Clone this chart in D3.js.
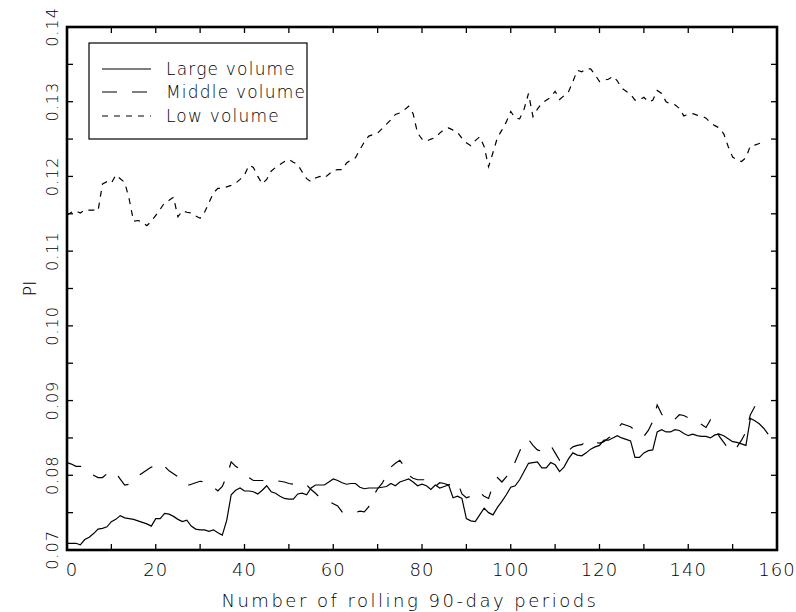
<!DOCTYPE html>
<html><head><meta charset="utf-8">
<script src="https://cdn.jsdelivr.net/npm/d3@7/dist/d3.min.js"></script>
<style>
html,body{margin:0;padding:0;background:#fff;}
svg text{font-family:"DejaVu Sans",sans-serif;font-weight:200;fill:#000;}
</style></head>
<body><svg id="c" width="796" height="612"></svg>
<script>
const largeVolume = [0.0709,0.0709,0.0709,0.0707,0.0714,0.0717,0.0722,0.0728,0.0729,0.0731,
0.0738,0.0741,0.0746,0.0743,0.0742,0.0741,0.0739,0.0737,0.0735,0.0732,
0.0742,0.0742,0.0749,0.0748,0.0745,0.0741,0.0738,0.0740,0.0732,0.0728,
0.0727,0.0727,0.0725,0.0727,0.0723,0.0720,0.0740,0.0774,0.0780,0.0783,
0.0779,0.0779,0.0778,0.0775,0.0780,0.0786,0.0778,0.0776,0.0772,0.0769,
0.0768,0.0768,0.0775,0.0776,0.0774,0.0783,0.0787,0.0787,0.0787,0.0791,
0.0795,0.0793,0.0790,0.0788,0.0789,0.0789,0.0784,0.0782,0.0783,0.0783,
0.0783,0.0784,0.0785,0.0789,0.0786,0.0791,0.0793,0.0795,0.0791,0.0786,
0.0788,0.0786,0.0781,0.0787,0.0783,0.0785,0.0787,0.0770,0.0772,0.0769,
0.0742,0.0739,0.0738,0.0747,0.0756,0.0750,0.0747,0.0757,0.0765,0.0774,
0.0784,0.0786,0.0794,0.0805,0.0816,0.0817,0.0818,0.0810,0.0810,0.0817,
0.0814,0.0805,0.0811,0.0822,0.0830,0.0827,0.0826,0.0830,0.0835,0.0838,
0.0840,0.0847,0.0847,0.0850,0.0853,0.0850,0.0848,0.0846,0.0824,0.0824,
0.0830,0.0833,0.0834,0.0858,0.0861,0.0858,0.0858,0.0861,0.0860,0.0856,
0.0853,0.0855,0.0853,0.0852,0.0852,0.0850,0.0854,0.0855,0.0853,0.0849,
0.0845,0.0844,0.0842,0.0840,0.0876,0.0873,0.0869,0.0863,0.0855];

const middleVolume = [0.0817,0.0815,0.0812,0.0812,0.0811,0.0805,0.0800,0.0797,0.0797,0.0802,
0.0806,0.0803,0.0795,0.0787,0.0788,0.0792,0.0799,0.0803,0.0807,0.0811,
0.0813,0.0816,0.0812,0.0806,0.0802,0.0798,0.0791,0.0786,0.0788,0.0790,
0.0792,0.0791,0.0789,0.0784,0.0779,0.0785,0.0799,0.0818,0.0812,0.0808,
0.0803,0.0797,0.0793,0.0793,0.0793,0.0793,0.0793,0.0793,0.0792,0.0791,
0.0789,0.0788,0.0786,0.0786,0.0787,0.0781,0.0776,0.0770,0.0768,0.0765,
0.0762,0.0759,0.0751,0.0749,0.0749,0.0750,0.0752,0.0751,0.0758,0.0772,
0.0782,0.0789,0.0800,0.0811,0.0816,0.0820,0.0812,0.0800,0.0796,0.0794,
0.0794,0.0794,0.0791,0.0785,0.0790,0.0789,0.0787,0.0790,0.0791,0.0775,
0.0770,0.0772,0.0778,0.0777,0.0772,0.0769,0.0787,0.0797,0.0791,0.0798,
0.0805,0.0818,0.0832,0.0845,0.0848,0.0840,0.0834,0.0832,0.0836,0.0840,
0.0830,0.0820,0.0826,0.0833,0.0838,0.0840,0.0841,0.0845,0.0847,0.0844,
0.0843,0.0845,0.0850,0.0853,0.0862,0.0869,0.0867,0.0865,0.0860,0.0854,
0.0852,0.0860,0.0872,0.0894,0.0882,0.0874,0.0874,0.0875,0.0881,0.0880,
0.0877,0.0875,0.0873,0.0868,0.0864,0.0874,0.0865,0.0852,0.0844,0.0836,
0.0832,0.0838,0.0847,0.0858,0.0881,0.0892,0.0898,0.0901];

const lowVolume = [0.1148,0.1152,0.1154,0.1151,0.1155,0.1155,0.1155,0.1154,0.1190,0.1193,
0.1191,0.1202,0.1197,0.1192,0.1170,0.1140,0.1141,0.1139,0.1134,0.1140,
0.1148,0.1156,0.1165,0.1168,0.1172,0.1146,0.1154,0.1152,0.1151,0.1147,
0.1144,0.1152,0.1165,0.1178,0.1184,0.1184,0.1186,0.1188,0.1191,0.1196,
0.1202,0.1215,0.1212,0.1200,0.1190,0.1196,0.1207,0.1212,0.1216,0.1220,
0.1223,0.1219,0.1216,0.1206,0.1197,0.1193,0.1198,0.1200,0.1198,0.1203,
0.1208,0.1209,0.1209,0.1218,0.1222,0.1225,0.1236,0.1246,0.1254,0.1256,
0.1258,0.1264,0.1270,0.1276,0.1283,0.1285,0.1289,0.1294,0.1284,0.1258,
0.1250,0.1247,0.1250,0.1252,0.1258,0.1263,0.1265,0.1262,0.1259,0.1251,
0.1245,0.1241,0.1248,0.1253,0.1240,0.1213,0.1232,0.1252,0.1262,0.1273,
0.1287,0.1278,0.1277,0.1290,0.1311,0.1280,0.1290,0.1298,0.1302,0.1306,
0.1314,0.1303,0.1308,0.1313,0.1327,0.1342,0.1340,0.1344,0.1344,0.1336,
0.1327,0.1329,0.1330,0.1334,0.1328,0.1318,0.1314,0.1310,0.1302,0.1302,
0.1306,0.1300,0.1302,0.1315,0.1311,0.1300,0.1297,0.1296,0.1291,0.1281,
0.1283,0.1284,0.1282,0.1281,0.1278,0.1272,0.1268,0.1265,0.1257,0.1240,
0.1226,0.1222,0.1220,0.1225,0.1241,0.1242,0.1244,0.1247];

const seriesNames = ["Large volume","Middle volume","Low volume"];
const xTickLabels = [0,20,40,60,80,100,120,140,160];
const yTickLabels = ["0.07","0.08","0.09","0.10","0.11","0.12","0.13","0.14"];
const xTitle = "Number of rolling 90-day periods";
const yTitle = "PI";

const svg = d3.select("#c");
const L=67, R=777, T=27, B=550;
const x = d3.scaleLinear().domain([0,160]).range([L,R]);
const y = d3.scaleLinear().domain([0.07,0.14]).range([B,T]);

const dashes = ["none","15,15","6,6"];
const data = [largeVolume, middleVolume, lowVolume];
const line = d3.line().x((d,i)=>x(i)).y(d=>y(d));
svg.append("clipPath").attr("id","pc").append("rect").attr("x",L).attr("y",T).attr("width",R-L).attr("height",B-T);
data.forEach((s,k)=>{
  svg.append("path").datum(s).attr("d",line).attr("fill","none")
    .attr("stroke","#000").attr("stroke-width",1.2)
    .attr("stroke-dasharray",dashes[k]).attr("clip-path","url(#pc)");
});

// ticks
const xMinor = d3.range(0,161,10);
const yMinor = d3.range(0,15).map(i=>+(0.07+i*0.005).toFixed(3));
const tl = 6;
const ax = svg.append("g").attr("stroke","#000").attr("stroke-width",1.3);
xMinor.forEach(v=>{
  ax.append("line").attr("x1",x(v)).attr("x2",x(v)).attr("y1",B).attr("y2",B-tl);
  ax.append("line").attr("x1",x(v)).attr("x2",x(v)).attr("y1",T).attr("y2",T+tl);
});
yMinor.forEach(v=>{
  ax.append("line").attr("x1",L).attr("x2",L+tl).attr("y1",y(v)).attr("y2",y(v));
  ax.append("line").attr("x1",R).attr("x2",R-tl).attr("y1",y(v)).attr("y2",y(v));
});
svg.append("rect").attr("x",L).attr("y",T).attr("width",R-L).attr("height",B-T)
  .attr("fill","none").attr("stroke","#000").attr("stroke-width",2.6);

xTickLabels.forEach((v,i)=>{
  svg.append("text").attr("x",x(v)+(i===0?5:0)).attr("y",576).attr("text-anchor","middle")
    .attr("font-size",18).attr("letter-spacing",1).text(v);
});
yTickLabels.forEach(v=>{
  svg.append("text").attr("transform",`translate(58,${y(+v)}) rotate(-90)`)
    .attr("text-anchor","middle").attr("font-size",16).attr("letter-spacing",1).text(v);
});
svg.append("text").attr("x",410).attr("y",607).attr("text-anchor","middle")
  .attr("font-size",18).attr("letter-spacing",2.5).text(xTitle);
svg.append("text").attr("transform",`translate(36,${(T+B)/2}) rotate(-90)`)
  .attr("text-anchor","middle").attr("font-size",17).text(yTitle);

// legend
const lg = svg.append("g");
lg.append("rect").attr("x",89).attr("y",43).attr("width",218).attr("height",96)
  .attr("fill","#fff").attr("stroke","#000").attr("stroke-width",1.2);
const rows=[69,92,116];
seriesNames.forEach((n,k)=>{
  lg.append("line").attr("x1",102).attr("x2",151).attr("y1",rows[k]).attr("y2",rows[k])
    .attr("stroke","#000").attr("stroke-width",1.2).attr("stroke-dasharray",dashes[k]);
  lg.append("text").attr("x",166).attr("y",rows[k]+6).attr("font-size",17)
    .attr("letter-spacing",1.2).text(n);
});
</script></body></html>
